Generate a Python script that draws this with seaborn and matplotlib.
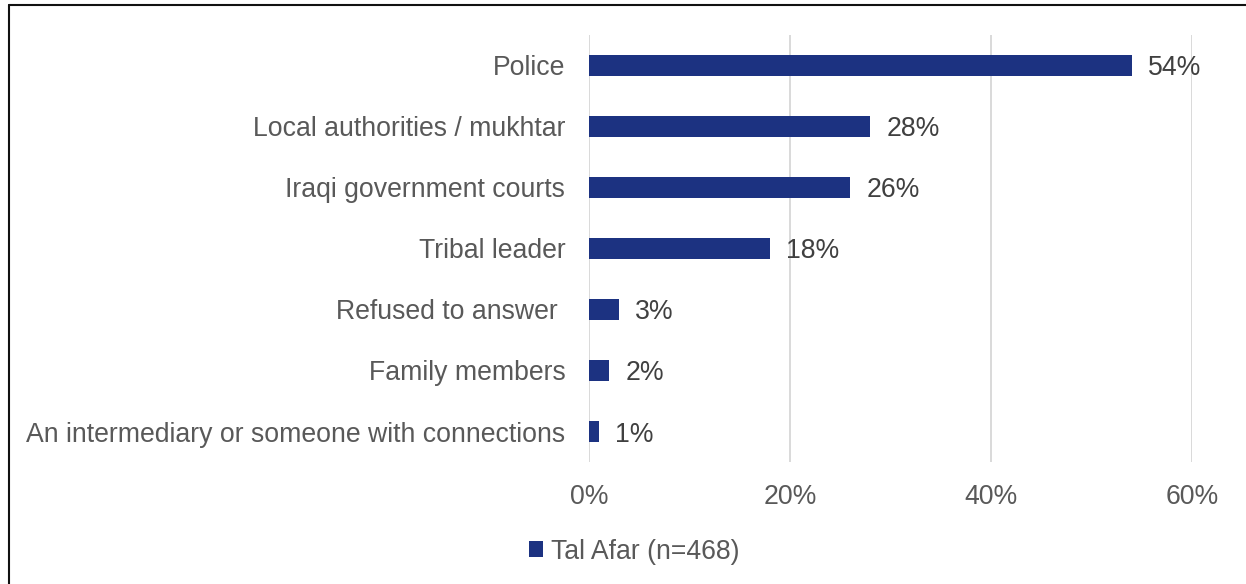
import matplotlib
matplotlib.use("Agg")
import matplotlib.pyplot as plt
from matplotlib.lines import Line2D
from matplotlib.patches import Patch
import seaborn as sns
import pandas as pd

categories = [
    "Police",
    "Local authorities / mukhtar",
    "Iraqi government courts",
    "Tribal leader",
    "Refused to answer ",
    "Family members",
    "An intermediary or someone with connections",
]
values = [54, 28, 26, 18, 3, 2, 1]
x_ticks = [0, 20, 40, 60]
series_name = "Tal Afar (n=468)"

bar_color = "#1C3281"
text_color = "#595959"
label_color = "#404040"
fs = 19.2

sns.set_theme(style="white")
plt.rcParams["font.family"] = ["Liberation Sans", "DejaVu Sans"]

df = pd.DataFrame({"category": categories, "value": values})

fig = plt.figure(figsize=(12.46, 5.84), dpi=100)
ax = fig.add_axes([0.4727, 0.2089, 0.4840, 0.7312])

sns.barplot(data=df, x="value", y="category", color=bar_color,
            saturation=1, width=0.33, ax=ax, zorder=3, edgecolor="none")

ax.set_xlim(0, 60)
ax.set_xticks(x_ticks)
ax.set_xticklabels([f"{t}%" for t in x_ticks])
ax.set_xlabel("")
ax.set_ylabel("")
ax.grid(axis="x", color="#D9D9D9", linewidth=1.4, zorder=0)
ax.grid(axis="y", visible=False)
for s in ax.spines.values():
    s.set_visible(False)
ax.tick_params(axis="both", length=0, labelsize=fs, colors=text_color)
ax.tick_params(axis="y", pad=17)
ax.tick_params(axis="x", pad=16)

for i, v in enumerate(values):
    ax.text(v + 1.6, i, f"{v}%", va="center_baseline", ha="left",
            fontsize=fs, color=label_color)

handle = Patch(facecolor=bar_color, edgecolor="none")
fig.legend([handle], [series_name], loc="center", bbox_to_anchor=(0.509, 0.055),
           frameon=False, fontsize=fs, handlelength=0.55, handleheight=0.55,
           handletextpad=0.3, labelcolor=text_color)

# frame lines along the top and left edges
fig.add_artist(Line2D([0.0072, 0.0072], [0, 0.9915], transform=fig.transFigure,
                      color="#111111", linewidth=1.5))
fig.add_artist(Line2D([0.0072, 1.0], [0.9915, 0.9915], transform=fig.transFigure,
                      color="#111111", linewidth=1.5))

fig.savefig("out.png", dpi=100, facecolor="white")
